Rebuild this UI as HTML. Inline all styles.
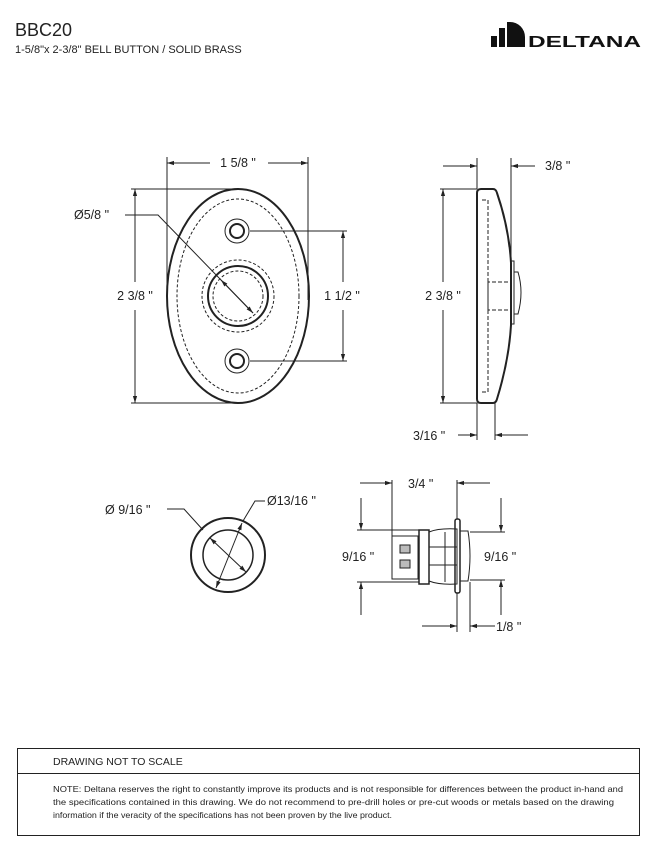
<!DOCTYPE html>
<html><head><style>
body{margin:0;background:#fff;}
svg text{font-family:"Liberation Sans",sans-serif;fill:#222;}
</style></head><body>
<svg width="656" height="838" viewBox="0 0 656 838" xmlns="http://www.w3.org/2000/svg">
<defs>
<marker id="a" viewBox="0 0 10 10" refX="10" refY="5" markerWidth="9" markerHeight="7" orient="auto-start-reverse"><path d="M0,2 L10,5 L0,8 z" fill="#222"/></marker>
</defs>
<text x="15" y="36" font-size="18">BBC20</text>
<text x="15" y="53" font-size="11">1-5/8"x 2-3/8" BELL BUTTON / SOLID BRASS</text>
<!-- logo -->
<g fill="#111">
<rect x="491" y="36" width="6" height="11"/>
<rect x="499" y="28" width="6" height="19"/>
<path d="M507,22 h3 a15,15 0 0 1 15,15 v10 h-18 z"/>
<text x="528" y="47" font-size="16" font-weight="bold" textLength="113" lengthAdjust="spacingAndGlyphs" style="fill:#111">DELTANA</text>
</g>
<g stroke="#222" fill="none" stroke-width="1">
<!-- front view -->
<ellipse cx="238" cy="296" rx="71" ry="107" stroke-width="2"/>
<ellipse cx="238" cy="296" rx="61" ry="97" stroke-dasharray="3,2"/>
<circle cx="237" cy="231" r="12"/><circle cx="237" cy="231" r="7" stroke-width="2"/>
<circle cx="237" cy="361" r="12"/><circle cx="237" cy="361" r="7" stroke-width="2"/>
<circle cx="238" cy="296" r="36" stroke-dasharray="3,2"/>
<circle cx="238" cy="296" r="30" stroke-width="2"/>
<circle cx="238" cy="296" r="25" stroke-dasharray="3,2"/>
<line x1="167" y1="157" x2="167" y2="300"/><line x1="308" y1="157" x2="308" y2="300"/>
<line x1="167" y1="163" x2="210" y2="163" marker-start="url(#a)"/><line x1="268" y1="163" x2="308" y2="163" marker-end="url(#a)"/>
<line x1="131" y1="189" x2="238" y2="189"/><line x1="131" y1="403" x2="238" y2="403"/>
<line x1="135" y1="189" x2="135" y2="282" marker-start="url(#a)"/><line x1="135" y1="310" x2="135" y2="403" marker-end="url(#a)"/>
<line x1="250" y1="231" x2="347" y2="231"/><line x1="250" y1="361" x2="347" y2="361"/>
<line x1="343" y1="231" x2="343" y2="282" marker-start="url(#a)"/><line x1="343" y1="310" x2="343" y2="361" marker-end="url(#a)"/>
<polyline points="125,215 158,215 253,313" />
<line x1="221" y1="280" x2="253" y2="313" marker-start="url(#a)" marker-end="url(#a)"/>
<!-- side view -->
<path d="M477,193 q0,-4 4,-4 h12 q3,0 4,4 q12,35 14,70 v62 q-2,35 -14,74 q-1,4 -4,4 h-12 q-4,0 -4,-4 z" stroke-width="2"/>
<path d="M482,200 h6 v110 h22 M482,392 h6 v-110 h22" stroke-dasharray="4,2"/>
<path d="M511,261 h3 v63 h-3" /><path d="M514,272 h4 q6,20 0,42 h-4"/>
<line x1="477" y1="158" x2="477" y2="189"/><line x1="511" y1="158" x2="511" y2="261"/>
<line x1="443" y1="166" x2="477" y2="166" marker-end="url(#a)"/><line x1="535" y1="166" x2="511" y2="166" marker-end="url(#a)"/>
<line x1="440" y1="189" x2="477" y2="189"/><line x1="440" y1="403" x2="477" y2="403"/>
<line x1="443" y1="189" x2="443" y2="282" marker-start="url(#a)"/><line x1="443" y1="310" x2="443" y2="403" marker-end="url(#a)"/>
<line x1="477" y1="403" x2="477" y2="440"/><line x1="495" y1="403" x2="495" y2="440"/>
<line x1="458" y1="435" x2="477" y2="435" marker-end="url(#a)"/><line x1="528" y1="435" x2="495" y2="435" marker-end="url(#a)"/>
<!-- ring -->
<circle cx="228" cy="555" r="37" stroke-width="2"/>
<circle cx="228" cy="555" r="25" stroke-width="1.5"/>
<polyline points="167,509 184,509 203,530"/>
<line x1="210" y1="538" x2="246" y2="572" marker-start="url(#a)" marker-end="url(#a)"/>
<polyline points="265,501 255,501 243,521"/>
<line x1="242" y1="523" x2="216" y2="588" marker-start="url(#a)" marker-end="url(#a)"/>
<!-- button side -->
<rect x="392" y="536" width="26" height="43"/>
<rect x="400" y="545" width="10" height="8" fill="#bbb"/><rect x="400" y="560" width="10" height="8" fill="#bbb"/>
<rect x="419" y="530" width="10" height="54" stroke-width="1.5"/>
<path d="M429,532 q10,-4 28,-3 v55 q-18,1 -28,-3"/>
<line x1="445" y1="532" x2="445" y2="582"/><line x1="429" y1="547" x2="457" y2="547"/><line x1="429" y1="565" x2="457" y2="565"/>
<rect x="455" y="519" width="5" height="74" rx="2" stroke-width="1.5"/>
<path d="M460,531 h8 q4,25 0,50 h-8"/>
<line x1="392" y1="480" x2="392" y2="536"/><line x1="457" y1="480" x2="457" y2="519"/><line x1="457" y1="593" x2="457" y2="632"/><line x1="470" y1="582" x2="470" y2="632"/>
<line x1="360" y1="483" x2="392" y2="483" marker-end="url(#a)"/><line x1="490" y1="483" x2="457" y2="483" marker-end="url(#a)"/>
<line x1="357" y1="530" x2="419" y2="530"/><line x1="357" y1="582" x2="419" y2="582"/>
<line x1="361" y1="498" x2="361" y2="530" marker-end="url(#a)"/><line x1="361" y1="615" x2="361" y2="582" marker-end="url(#a)"/>
<line x1="470" y1="532" x2="505" y2="532"/><line x1="470" y1="580" x2="505" y2="580"/>
<line x1="501" y1="498" x2="501" y2="532" marker-end="url(#a)"/><line x1="501" y1="615" x2="501" y2="580" marker-end="url(#a)"/>
<line x1="422" y1="626" x2="457" y2="626" marker-end="url(#a)"/><line x1="495" y1="626" x2="470" y2="626" marker-end="url(#a)"/>
<!-- footer -->
<rect x="17.5" y="748.5" width="622" height="87"/>
<line x1="17" y1="773.5" x2="640" y2="773.5"/>
</g>
<g font-size="12.5">
<text x="238" y="167" text-anchor="middle">1 5/8 "</text>
<text x="74" y="219">Ø5/8 "</text>
<text x="135" y="300" text-anchor="middle" style="paint-order:stroke;stroke:#fff;stroke-width:6px">2 3/8 "</text>
<text x="342" y="300" text-anchor="middle" style="paint-order:stroke;stroke:#fff;stroke-width:6px">1 1/2 "</text>
<text x="545" y="170">3/8 "</text>
<text x="443" y="300" text-anchor="middle" style="paint-order:stroke;stroke:#fff;stroke-width:6px">2 3/8 "</text>
<text x="413" y="440">3/16 "</text>
<text x="105" y="514">Ø 9/16 "</text>
<text x="267" y="505">Ø13/16 "</text>
<text x="408" y="488">3/4 "</text>
<text x="342" y="561">9/16 "</text>
<text x="484" y="561">9/16 "</text>
<text x="496" y="631">1/8 "</text>
</g>
<text x="53" y="765" font-size="10.5">DRAWING NOT TO SCALE</text>
<g font-size="8.5">
<text x="53" y="792" textLength="570" lengthAdjust="spacingAndGlyphs">NOTE: Deltana reserves the right to constantly improve its products and is not responsible for differences between the product in-hand and</text>
<text x="53" y="805" textLength="561" lengthAdjust="spacingAndGlyphs">the specifications contained in this drawing.  We do not recommend to pre-drill holes or pre-cut woods or metals based on the drawing</text>
<text x="53" y="818" textLength="339" lengthAdjust="spacingAndGlyphs">information if the veracity of the specifications has not been proven by the live product.</text>
</g>
</svg>
</body></html>
